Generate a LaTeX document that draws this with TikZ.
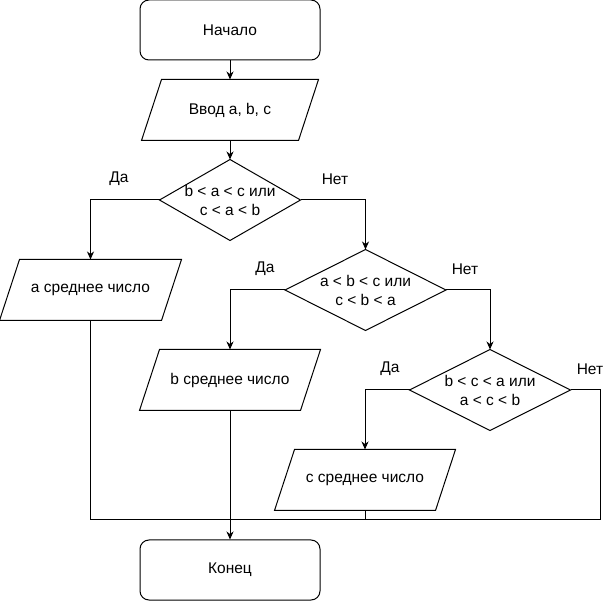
\documentclass[tikz,border=0pt]{standalone}
\usepackage{fontspec}
\setmainfont{Liberation Sans}
\usetikzlibrary{arrows.meta,calc}
\begin{document}
\begin{tikzpicture}[x=1pt,y=-1pt,line width=1pt,
  every node/.style={font=\fontsize{15.5}{19}\selectfont},
  box/.style={minimum width=180pt,minimum height=60pt,inner sep=0pt,align=center},
  term/.style={box,draw,rounded corners=9pt},
  iobox/.style={box},
  decbox/.style={minimum width=160pt,minimum height=80pt,inner sep=0pt,align=center},
  lbl/.style={inner sep=0pt},
  arr/.style={-{Stealth[length=8pt,width=7pt,inset=2.5pt]}}]
\useasboundingbox (0,0) rectangle (611,601);
% nodes
\node[term] (start) at (230,30) {Начало};
\node[iobox,minimum width=176pt] (inp) at (230,110) {Ввод a, b, c};
\node[decbox,minimum width=140pt] (d1) at (230,200) {b < a < c или\\c < a < b};
\node[iobox,minimum width=181pt] (a) at (90.5,290) {a среднее число};
\node[decbox] (d2) at (365.5,290) {a < b < c или\\c < b < a};
\node[iobox] (b) at (230,380) {b среднее число};
\node[decbox] (d3) at (490,390) {b < c < a или\\a < c < b};
\node[iobox] (c) at (365,480) {c среднее число};
\node[term] (end) at (230,570) {Конец};
% parallelograms
\foreach \n in {inp,a,b,c}{
  \draw ($(\n.north west)+(20,0)$) -- (\n.north east) -- ($(\n.south east)-(20,0)$) -- (\n.south west) -- cycle;
}
% diamonds
\foreach \n in {d1,d2,d3}{
  \draw (\n.north) -- (\n.east) -- (\n.south) -- (\n.west) -- cycle;
}
% labels
\node[lbl] (l1) at (119,179) {Да};
\node[lbl] (l2) at (335,179) {Нет};
\node[lbl] (l3) at (265,269) {Да};
\node[lbl] (l4) at (465,269) {Нет};
\node[lbl] (l5) at (390,369) {Да};
\node[lbl] (l6) at (590,369) {Нет};
% connectors
\draw[arr] (start) -- (inp);
\draw[arr] (inp) -- (d1);
\draw[arr] (d1.west) -| (a.north);
\draw[arr] (d1.east) -| (d2.north);
\draw[arr] (d2.west) -| (b.north);
\draw[arr] (d2.east) -| (d3.north);
\draw[arr] (d3.west) -| (c.north);
\coordinate (j) at (230,520);
\coordinate (rr) at (600,520);
\draw (d3.east) -| (rr) -- (j);
\draw (a.south) |- (j);
\draw (c.south) -- (c.south |- j);
\draw[arr] (b.south) -- (end.north);
\end{tikzpicture}
\end{document}
